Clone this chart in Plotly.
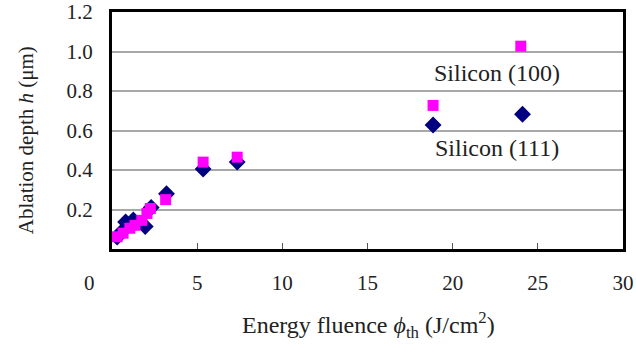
import plotly.graph_objects as go

# Ablation depth vs. energy fluence for two silicon orientations
si100_x = [0.3, 0.65, 1.05, 1.35, 1.75, 2.05, 2.25, 3.15, 5.35, 7.35, 18.85, 24.0]
si100_y = [0.062, 0.08, 0.105, 0.12, 0.145, 0.18, 0.205, 0.25, 0.44, 0.465, 0.727, 1.027]

si111_x = [0.3, 0.6, 0.8, 1.25, 1.95, 2.3, 3.2, 5.35, 7.35, 18.85, 24.1]
si111_y = [0.06, 0.09, 0.137, 0.147, 0.114, 0.21, 0.28, 0.405, 0.44, 0.628, 0.682]

x_ticks = [0, 5, 10, 15, 20, 25, 30]
y_ticks = [0.2, 0.4, 0.6, 0.8, 1.0, 1.2]

FONT = '"Liberation Serif", serif'
TXT = "#222"

fig = go.Figure()
fig.add_trace(go.Scatter(
    x=si111_x, y=si111_y, mode="markers", name="Silicon (111)",
    marker=dict(symbol="diamond", size=13, color="#000080"),
))
fig.add_trace(go.Scatter(
    x=si100_x, y=si100_y, mode="markers", name="Silicon (100)",
    marker=dict(symbol="square", size=11, color="#FF00FF"),
))

fig.update_layout(
    width=636, height=351,
    margin=dict(l=112, r=13, t=12, b=102, autoexpand=False),
    paper_bgcolor="white", plot_bgcolor="white",
    showlegend=False,
    font=dict(family=FONT, size=21, color=TXT),
)

fig.update_xaxes(
    range=[0, 30], tickvals=x_ticks,
    ticktext=[""] + [str(v) for v in x_ticks[1:]],
    showgrid=False, zeroline=False, automargin=False,
    showline=True, linecolor="black", linewidth=3, mirror=True,
    ticks="inside", ticklen=6, tickcolor="#555", tickwidth=1,
    ticklabelstandoff=13,
    tickfont=dict(family=FONT, size=21, color=TXT),
)
fig.update_yaxes(
    range=[0, 1.2], tickvals=y_ticks, tickformat=".1f",
    showgrid=True, gridcolor="#A8A8A8", gridwidth=1.5, zeroline=False,
    automargin=False,
    showline=True, linecolor="black", linewidth=3, mirror=True,
    ticks="", ticklabelstandoff=12,
    tickfont=dict(family=FONT, size=21, color=TXT),
)

# Origin label sits a little left of the axis corner
fig.add_annotation(
    x=-0.045, y=-0.143, xref="paper", yref="paper", text="0",
    xanchor="center", yanchor="middle",
    showarrow=False, font=dict(family=FONT, size=21, color=TXT),
)

# Axis titles
fig.add_annotation(
    x=0.501, y=-0.321, xref="paper", yref="paper",
    xanchor="center", yanchor="middle",
    text="Energy fluence <i>ϕ</i><sub>th</sub> (J/cm<sup>2</sup>)",
    showarrow=False, font=dict(family=FONT, size=24, color=TXT),
)
fig.add_annotation(
    x=-0.168, y=0.46, xref="paper", yref="paper",
    xanchor="center", yanchor="middle",
    text="Ablation depth <i>h</i> (μm)", textangle=-90,
    showarrow=False, font=dict(family=FONT, size=21, color=TXT),
)

# Series labels
fig.add_annotation(x=22.6, y=0.89, text="Silicon (100)", showarrow=False,
                   xanchor="center", yanchor="middle",
                   font=dict(family=FONT, size=24, color=TXT))
fig.add_annotation(x=22.6, y=0.51, text="Silicon (111)", showarrow=False,
                   xanchor="center", yanchor="middle",
                   font=dict(family=FONT, size=24, color=TXT))

fig.write_html("out.html")
